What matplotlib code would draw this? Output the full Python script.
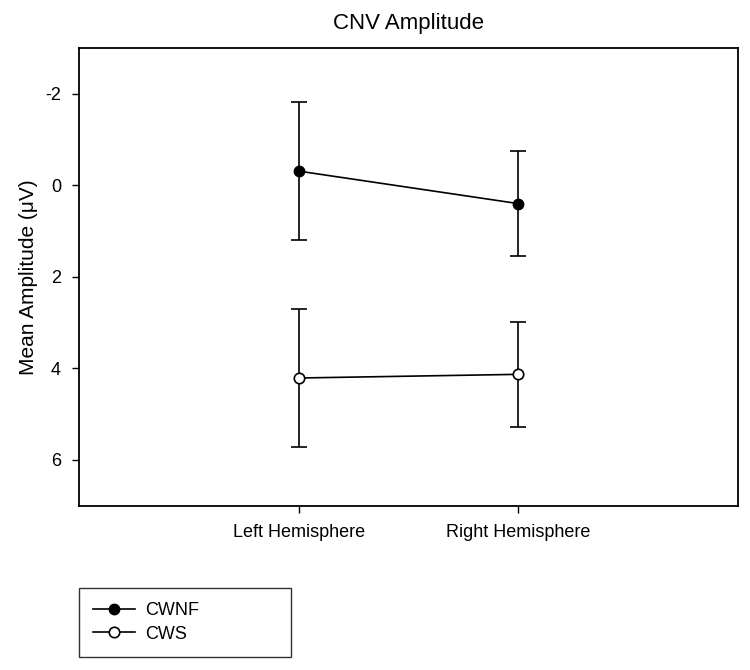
import numpy as np
import matplotlib
matplotlib.use('Agg')
import matplotlib.pyplot as plt

plt.rcParams['font.family'] = ['Liberation Sans', 'DejaVu Sans']
plt.rcParams['axes.unicode_minus'] = False

conditions = ['Left Hemisphere', 'Right Hemisphere']
cwnf_mean = [-0.31, 0.40]
cwnf_err = [1.50, 1.14]
cws_mean = [4.21, 4.13]
cws_err = [1.50, 1.15]
yticks = [-2, 0, 2, 4, 6]

fig = plt.figure(figsize=(7.5, 6.7), dpi=100)
ax = fig.add_axes([0.1053, 0.2452, 0.8787, 0.6832])

x = np.arange(1, len(conditions) + 1)

ax.errorbar(x, cwnf_mean, yerr=cwnf_err, color='black', lw=1.2,
            marker='o', ms=7.5, mfc='black', mec='black',
            capsize=5.5, capthick=1.2, elinewidth=1.2, label='CWNF')
ax.errorbar(x, cws_mean, yerr=cws_err, color='black', lw=1.2,
            marker='o', ms=7.5, mfc='white', mec='black', mew=1.2,
            capsize=5.5, capthick=1.2, elinewidth=1.2, label='CWS')

ax.set_xlim(0, 3)
ax.set_ylim(7, -3)
ax.set_xticks(x, conditions)
ax.set_yticks(yticks)
ax.tick_params(direction='out', length=5, width=1, labelsize=13, pad=8)
for s in ax.spines.values():
    s.set_linewidth(1.3)

ax.set_title('CNV Amplitude', fontsize=16, pad=14)
ax.set_ylabel('Mean Amplitude (\u03bcV)', fontsize=15, labelpad=5)

handles, labels = ax.get_legend_handles_labels()
handles = [h[0] for h in handles]
leg = fig.legend(handles, labels, loc='upper left',
                 bbox_to_anchor=(0.105, 0.0, 0.283, 1 - 588 / 670),
                 mode='expand', fontsize=13, frameon=True, fancybox=False,
                 edgecolor='black', handlelength=2.3, borderpad=0.8,
                 labelspacing=0.35, handletextpad=0.6, borderaxespad=0)
leg.get_frame().set_linewidth(1.0)

fig.savefig('out.png', dpi=100)
